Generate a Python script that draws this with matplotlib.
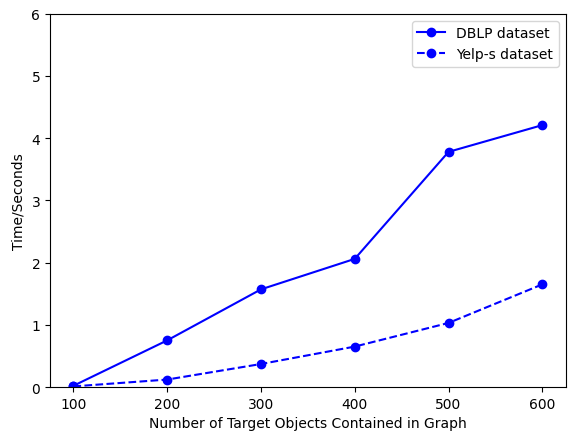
import matplotlib
matplotlib.use("Agg")
import matplotlib.pyplot as plt

targets = [100, 200, 300, 400, 500, 600]
dblp = [0.02, 0.75, 1.57, 2.06, 3.78, 4.21]
yelp = [0.01, 0.12, 0.37, 0.65, 1.03, 1.65]

fig = plt.figure(figsize=(5.68, 4.35), dpi=100)
ax = fig.add_axes([0.088, 0.108, 0.908, 0.858])
ax.plot(targets, dblp, 'bo-', label='DBLP dataset')
ax.plot(targets, yelp, 'bo--', label='Yelp-s dataset')
ax.set_ylim(0, 6)
ax.set_xlabel('Number of Target Objects Contained in Graph')
ax.set_ylabel('Time/Seconds')
ax.legend(loc='upper right')
fig.savefig('out.png')
